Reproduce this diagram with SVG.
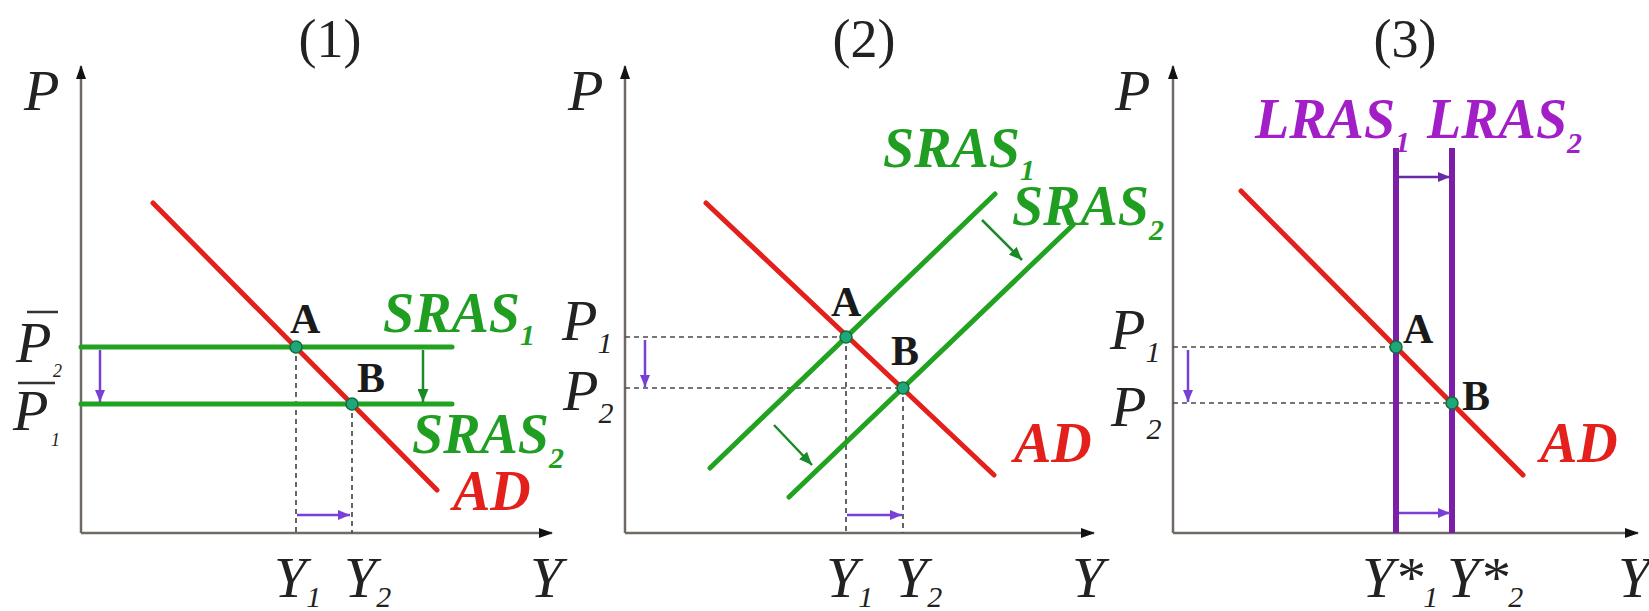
<svg xmlns="http://www.w3.org/2000/svg" width="1649" height="611" viewBox="0 0 1649 611">
<defs>
<marker id="axArr" markerUnits="userSpaceOnUse" markerWidth="14" markerHeight="12" refX="13" refY="6" orient="auto"><path d="M0,1 L14,6 L0,11 z" fill="#111"/></marker>
<marker id="puArr" markerUnits="userSpaceOnUse" markerWidth="12" markerHeight="10" refX="12" refY="5" orient="auto"><path d="M0,0 L12,5 L0,10 z" fill="#7a3fd6"/></marker>
<marker id="lpArr" markerUnits="userSpaceOnUse" markerWidth="12" markerHeight="10" refX="12" refY="5" orient="auto"><path d="M0,0 L12,5 L0,10 z" fill="#6a2aa8"/></marker>
<marker id="grArr" markerUnits="userSpaceOnUse" markerWidth="13" markerHeight="11" refX="13" refY="5.5" orient="auto"><path d="M0,0 L13,5.5 L0,11 z" fill="#1a8a28"/></marker>
</defs>
<style>
.axis{stroke:#6f6b64;stroke-width:2.5;fill:none}
.ad{stroke:#e3201b;stroke-width:5;fill:none;stroke-linecap:round}
.sras{stroke:#21a321;stroke-width:5;fill:none;stroke-linecap:round}
.lras{stroke:#7b1fa8;stroke-width:6;fill:none}
.dash{stroke:#4a4a4a;stroke-width:1.7;stroke-dasharray:5 4;fill:none}
.pu{stroke:#7a3fd6;stroke-width:2.5;fill:none}
.lp{stroke:#6a2aa8;stroke-width:2.5;fill:none}
.gr{stroke:#1a8a28;stroke-width:2.5;fill:none}
.pt{fill:#1fa67a;stroke:#0f6e3a;stroke-width:1.5}
.ttl{font-family:"Liberation Serif",serif;font-size:54px;fill:#222}
.ax{font-family:"Liberation Serif",serif;font-style:italic;font-size:58px;fill:#222}
.pl{font-family:"Liberation Serif",serif;font-weight:bold;font-size:42px;fill:#1a1a1a}
.gt{font-family:"Liberation Serif",serif;font-weight:bold;font-style:italic;font-size:56px;fill:#1f9e22}
.rt{font-family:"Liberation Serif",serif;font-weight:bold;font-style:italic;font-size:56px;fill:#e3201b}
.mt{font-family:"Liberation Serif",serif;font-weight:bold;font-style:italic;font-size:56px;fill:#a21fc8}
.sub{font-size:30px}
.ovl{stroke:#333;stroke-width:2.5}
</style>

<g id="panel1">
  <text class="ttl" x="330" y="57" text-anchor="middle">(1)</text>
  <g id="p1-axes">
    <line class="axis" x1="81" y1="533" x2="81" y2="66" marker-end="url(#axArr)"/>
    <line class="axis" x1="81" y1="533" x2="552" y2="533" marker-end="url(#axArr)"/>
    <text class="ax" x="24" y="110">P</text>
    <text class="ax" x="530" y="597">Y</text>
    <text class="ax" x="274" y="597">Y<tspan class="sub" dy="10">1</tspan></text>
    <text class="ax" x="344" y="597">Y<tspan class="sub" dy="10">2</tspan></text>
    <line class="ovl" x1="27" y1="312" x2="58" y2="312"/>
    <text class="ax" x="16" y="362">P</text>
    <text class="ax" x="53" y="377" style="font-size:18px">2</text>
    <line class="ovl" x1="18" y1="383" x2="55" y2="383"/>
    <text class="ax" x="13" y="430">P</text>
    <text class="ax" x="51" y="446" style="font-size:18px">1</text>
  </g>
  <g id="p1-curves">
    <line class="dash" x1="296" y1="347" x2="296" y2="533"/>
    <line class="dash" x1="352" y1="404" x2="352" y2="533"/>
    <line class="sras" x1="81" y1="347" x2="452" y2="347"/>
    <line class="sras" x1="81" y1="404" x2="452" y2="404"/>
    <line class="ad" x1="153" y1="203" x2="437" y2="490"/>
  </g>
  <g id="p1-A"><circle class="pt" cx="296" cy="347" r="6"/><text class="pl" x="290" y="333">A</text></g>
  <g id="p1-B"><circle class="pt" cx="352" cy="404" r="6"/><text class="pl" x="357" y="392">B</text></g>
  <text class="gt" x="383" y="332">SRAS<tspan class="sub" dy="13">1</tspan></text>
  <text class="gt" x="412" y="453">SRAS<tspan class="sub" dy="15">2</tspan></text>
  <text class="rt" x="453" y="510">AD</text>
</g>

<g id="panel2">
  <text class="ttl" x="864" y="57" text-anchor="middle">(2)</text>
  <g id="p2-axes">
    <line class="axis" x1="625" y1="533" x2="625" y2="66" marker-end="url(#axArr)"/>
    <line class="axis" x1="625" y1="533" x2="1094" y2="533" marker-end="url(#axArr)"/>
    <text class="ax" x="568" y="110">P</text>
    <text class="ax" x="1072" y="597">Y</text>
    <text class="ax" x="826" y="597">Y<tspan class="sub" dy="10">1</tspan></text>
    <text class="ax" x="895" y="597">Y<tspan class="sub" dy="10">2</tspan></text>
    <text class="ax" x="562" y="340">P<tspan class="sub" dy="13">1</tspan></text>
    <text class="ax" x="563" y="410">P<tspan class="sub" dy="13">2</tspan></text>
  </g>
  <g id="p2-curves">
    <line class="dash" x1="625" y1="337" x2="846" y2="337"/>
    <line class="dash" x1="625" y1="388" x2="903" y2="388"/>
    <line class="dash" x1="846" y1="337" x2="846" y2="533"/>
    <line class="dash" x1="903" y1="388" x2="903" y2="533"/>
    <line class="sras" x1="710" y1="468" x2="995" y2="194"/>
    <line class="sras" x1="789" y1="497" x2="1073" y2="225"/>
    <line class="ad" x1="706" y1="203" x2="994" y2="475"/>
  </g>
  <g id="p2-A"><circle class="pt" cx="846" cy="337" r="6"/><text class="pl" x="831" y="316">A</text></g>
  <g id="p2-B"><circle class="pt" cx="903" cy="388" r="6"/><text class="pl" x="891" y="365">B</text></g>
  <text class="gt" x="883" y="167">SRAS<tspan class="sub" dy="13">1</tspan></text>
  <text class="gt" x="1012" y="225">SRAS<tspan class="sub" dy="15">2</tspan></text>
  <text class="rt" x="1014" y="462">AD</text>
</g>

<g id="panel3">
  <text class="ttl" x="1405" y="57" text-anchor="middle">(3)</text>
  <g id="p3-axes">
    <line class="axis" x1="1173" y1="533" x2="1173" y2="66" marker-end="url(#axArr)"/>
    <line class="axis" x1="1173" y1="533" x2="1638" y2="533" marker-end="url(#axArr)"/>
    <text class="ax" x="1115" y="110">P</text>
    <text class="ax" x="1618" y="597">Y</text>
    <text class="ax" x="1362" y="597">Y*<tspan class="sub" dy="10">1</tspan></text>
    <text class="ax" x="1447" y="597">Y*<tspan class="sub" dy="10">2</tspan></text>
    <text class="ax" x="1110" y="349">P<tspan class="sub" dy="13">1</tspan></text>
    <text class="ax" x="1111" y="426">P<tspan class="sub" dy="13">2</tspan></text>
  </g>
  <g id="p3-curves">
    <line class="dash" x1="1173" y1="347" x2="1396" y2="347"/>
    <line class="dash" x1="1173" y1="403" x2="1452" y2="403"/>
    <line class="lras" x1="1396" y1="148" x2="1396" y2="533"/>
    <line class="lras" x1="1452" y1="148" x2="1452" y2="533"/>
    <line class="ad" x1="1241" y1="191" x2="1523" y2="475"/>
  </g>
  <g id="p3-A"><circle class="pt" cx="1396" cy="347" r="6"/><text class="pl" x="1403" y="343">A</text></g>
  <g id="p3-B"><circle class="pt" cx="1452" cy="403" r="6"/><text class="pl" x="1462" y="410">B</text></g>
  <text class="mt" x="1255" y="138">LRAS<tspan class="sub" dy="14">1</tspan></text>
  <text class="mt" x="1427" y="138">LRAS<tspan class="sub" dy="15">2</tspan></text>
  <text class="rt" x="1540" y="462">AD</text>
</g>

<g id="connectors">
  <line class="pu" x1="100" y1="350" x2="100" y2="402" marker-end="url(#puArr)"/>
  <line class="pu" x1="297" y1="515" x2="350" y2="515" marker-end="url(#puArr)"/>
  <line class="gr" x1="423" y1="350" x2="423" y2="402" marker-end="url(#grArr)"/>
  <line class="pu" x1="645" y1="340" x2="645" y2="387" marker-end="url(#puArr)"/>
  <line class="pu" x1="847" y1="515" x2="902" y2="515" marker-end="url(#puArr)"/>
  <line class="gr" x1="982" y1="220" x2="1022" y2="260" marker-end="url(#grArr)"/>
  <line class="gr" x1="774" y1="425" x2="812" y2="465" marker-end="url(#grArr)"/>
  <line class="pu" x1="1188" y1="350" x2="1188" y2="402" marker-end="url(#puArr)"/>
  <line class="lp" x1="1399" y1="177" x2="1450" y2="177" marker-end="url(#lpArr)"/>
  <line class="pu" x1="1399" y1="513" x2="1450" y2="513" marker-end="url(#puArr)"/>
</g>
</svg>
